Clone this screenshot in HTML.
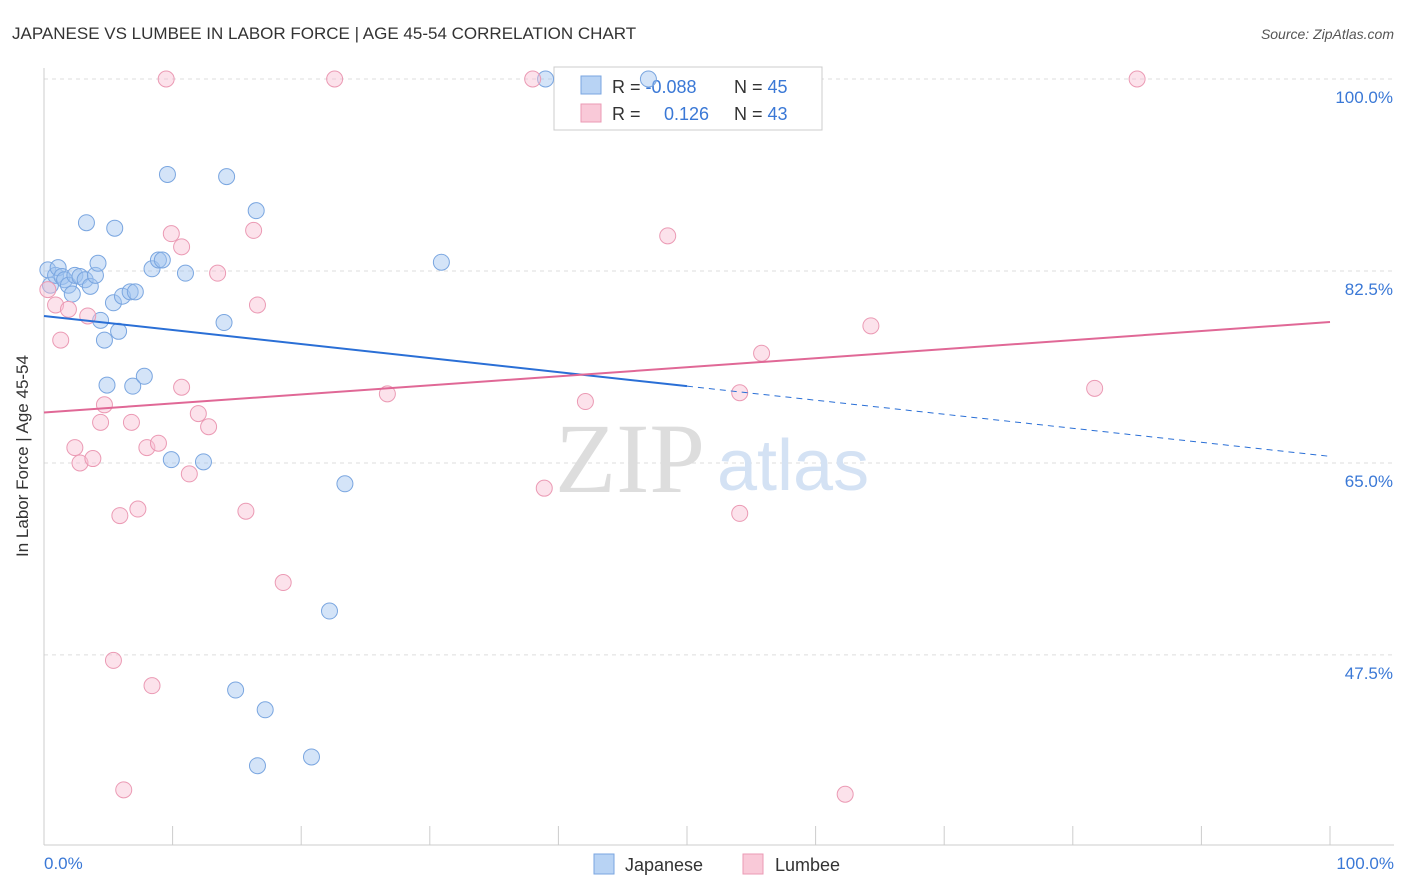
<!DOCTYPE html>
<html><head><meta charset="utf-8"><style>
body{margin:0;background:#fff;font-family:"Liberation Sans",sans-serif}
svg{display:block}
</style></head><body>
<svg width="1406" height="892">
<text x="12" y="39" font-size="17" fill="#333">JAPANESE VS LUMBEE IN LABOR FORCE | AGE 45-54 CORRELATION CHART</text>
<text x="1394" y="39" font-size="14" fill="#555" font-style="italic" text-anchor="end">Source: ZipAtlas.com</text>
<g id="grid"></g>
<line x1="44" y1="68" x2="44" y2="845" stroke="#ccc"/>
<line x1="44" y1="845" x2="1394" y2="845" stroke="#ccc"/>
<text x="555" y="492" font-size="100" fill="#ddd" font-family="Liberation Serif,serif">ZIP</text>
<text x="717" y="490" font-size="72" fill="#d4e2f4">atlas</text>
<text x="28" y="456" font-size="17" fill="#333" text-anchor="middle" transform="rotate(-90 28 456)">In Labor Force | Age 45-54</text>
<text x="44" y="869" font-size="17" fill="#3a78d6">0.0%</text>
<text x="1394" y="869" font-size="17" fill="#3a78d6" text-anchor="end">100.0%</text>
<rect x="554" y="67" width="268" height="63" fill="#fff" stroke="#ccc"/>
<rect x="581" y="76" width="20" height="18" fill="#b8d3f4" stroke="#7aa6e0"/>
<rect x="581" y="104" width="20" height="18" fill="#f9c9d8" stroke="#eb9ab4"/>
<text x="612" y="93" font-size="18" fill="#333">R = <tspan fill="#3a78d6">-0.088</tspan></text>
<text x="734" y="93" font-size="18" fill="#333">N = <tspan fill="#3a78d6">45</tspan></text>
<text x="612" y="120" font-size="18" fill="#333">R = <tspan fill="#3a78d6" x="664">0.126</tspan></text>
<text x="734" y="120" font-size="18" fill="#333">N = <tspan fill="#3a78d6">43</tspan></text>
<rect x="594" y="854" width="20" height="20" fill="#b8d3f4" stroke="#7aa6e0"/>
<text x="625" y="871" font-size="18" fill="#333">Japanese</text>
<rect x="743" y="854" width="20" height="20" fill="#f9c9d8" stroke="#eb9ab4"/>
<text x="775" y="871" font-size="18" fill="#333">Lumbee</text>
<g id="marks"></g>
</svg>
<script>
const yTicks=[100,82.5,65,47.5];
const japX=[0.3,0.5,0.9,1.1,1.4,1.6,1.9,2.2,2.4,2.8,3.2,3.6,4.0,4.2,3.3,5.5,4.4,4.7,5.4,5.8,6.1,6.7,7.1,4.9,6.9,7.8,8.4,8.9,9.2,11.0,9.6,14.2,16.5,14.0,9.9,12.4,23.4,22.2,14.9,17.2,16.6,20.8,30.9,39.0,47.0];
const japY=[82.6,81.2,82.1,82.8,82.0,81.7,81.2,80.4,82.1,82.0,81.7,81.1,82.1,83.2,86.9,86.4,78.0,76.2,79.6,77.0,80.2,80.6,80.6,72.1,72.0,72.9,82.7,83.5,83.5,82.3,91.3,91.1,88.0,77.8,65.3,65.1,63.1,51.5,44.3,42.5,37.4,38.2,83.3,100,100];
const lumX=[0.3,0.9,1.3,1.9,3.4,2.4,2.8,3.8,4.4,4.7,5.9,7.3,6.8,8.0,8.9,9.5,9.9,10.7,10.7,11.3,12.0,12.8,13.5,15.7,16.3,16.6,18.6,22.6,26.7,38.0,38.9,42.1,48.5,54.1,54.1,55.8,64.3,81.7,85.0,5.4,8.4,6.2,62.3];
const lumY=[80.8,79.4,76.2,79.0,78.4,66.4,65.0,65.4,68.7,70.3,60.2,60.8,68.7,66.4,66.8,100,85.9,84.7,71.9,64.0,69.5,68.3,82.3,60.6,86.2,79.4,54.1,100,71.3,100,62.7,70.6,85.7,71.4,60.4,75.0,77.5,71.8,100,47.0,44.7,35.2,34.8];
const japTrend=[78.4,65.6], lumTrend=[69.6,77.85];
const NS='http://www.w3.org/2000/svg';
const sx=v=>44+v*12.86, sy=v=>79+(100-v)*10.97;
const grid=document.getElementById('grid'), marks=document.getElementById('marks');
function mk(tag,attrs,parent){const e=document.createElementNS(NS,tag);for(const k in attrs)e.setAttribute(k,attrs[k]);parent.appendChild(e);return e;}
yTicks.forEach(t=>{
 const l=mk('line',{x1:44,x2:1394,y1:sy(t),y2:sy(t),stroke:'#ddd','stroke-dasharray':'4,4'},grid);
 
 
 const tx=mk('text',{x:1393,y:sy(t)+24,'font-size':17,fill:'#3a78d6','text-anchor':'end'},grid);
 tx.textContent=t.toFixed(1)+'%';
 
 
});
for(let i=0;i<=10;i++){const l=mk('line',{x1:sx(i*10),x2:sx(i*10),y1:826,y2:845,stroke:'#ccc'},grid);
 
 }
japX.forEach((x,i)=>{const c=mk('circle',{cx:sx(x),cy:sy(japY[i]),r:8,fill:'rgba(160,196,240,0.45)',stroke:'#7aa6e0','stroke-width':1},marks);
 
 });
lumX.forEach((x,i)=>{const c=mk('circle',{cx:sx(x),cy:sy(lumY[i]),r:8,fill:'rgba(249,190,210,0.45)',stroke:'#eb9ab4','stroke-width':1},marks);
 
 });
const jy=x=>japTrend[0]+(japTrend[1]-japTrend[0])*x/100;
let t1=mk('line',{x1:sx(0),y1:sy(jy(0)),x2:sx(50),y2:sy(jy(50)),stroke:'#2a6fd6','stroke-width':2},marks);


let t2=mk('line',{x1:sx(50),y1:sy(jy(50)),x2:sx(100),y2:sy(jy(100)),stroke:'#2a6fd6','stroke-width':1,'stroke-dasharray':'6,5'},marks);


let t3=mk('line',{x1:sx(0),y1:sy(lumTrend[0]),x2:sx(100),y2:sy(lumTrend[1]),stroke:'#e06896','stroke-width':2},marks);


</script>
</body></html>
